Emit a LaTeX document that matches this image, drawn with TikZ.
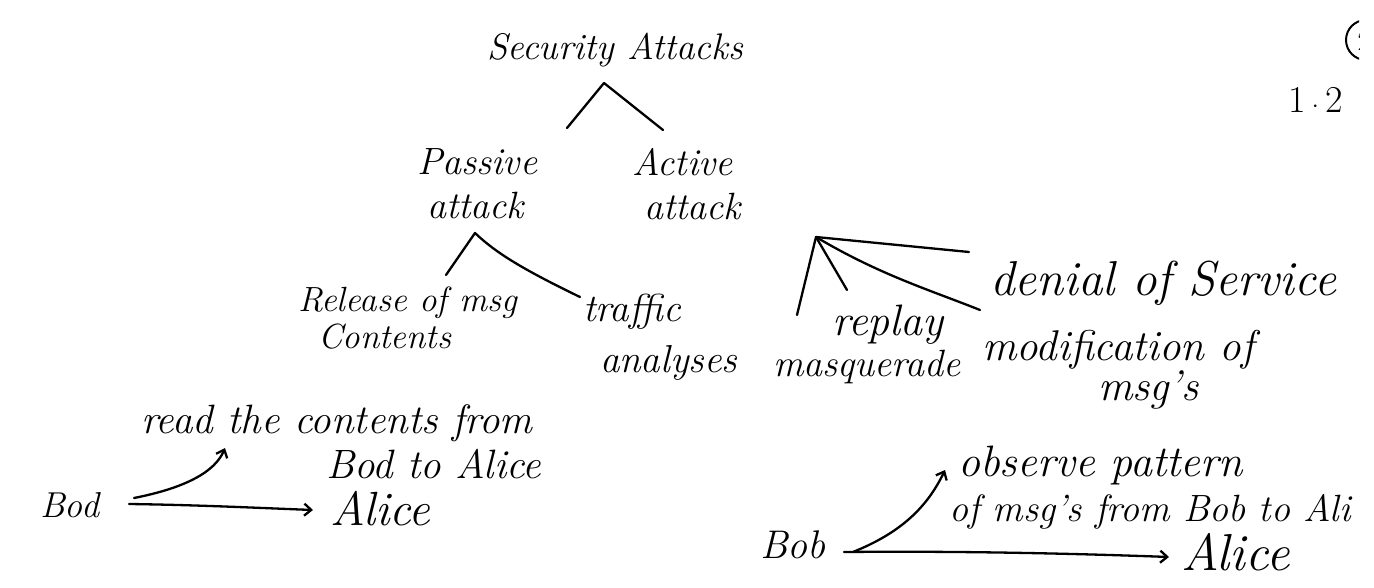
\documentclass[tikz,border=0pt]{standalone}
\usetikzlibrary{arrows.meta}
\tikzset{
  hw/.style={inner sep=0pt, outer sep=0pt, anchor=base west, font=\itshape\fontsize{#1}{#1}\selectfont, align=left},
  hw/.default=38,
  ink/.style={line width=2.3pt, line cap=round, line join=round, black},
  arr/.style={ink, -{Straight Barb[length=7pt, width=12pt, line width=2.3pt]}}
}
\begin{document}
\begin{tikzpicture}[x=1pt, y=-1pt]
\useasboundingbox (0,0) rectangle (1374,588);
\fill[white] (0,0) rectangle (1374,588);

% top (anchor = baseline of the last line)
\node[hw=37] (sec) at (487,60) {Security Attacks};
\node[hw=38] (pas) at (417,219) {Passive\\[6pt]\hspace*{10pt}attack};
\node[hw=38] (act) at (632,220) {Active\\[6pt]\hspace*{12pt}attack};

\coordinate (secA) at (604,83);
\coordinate (secL) at (567,128);
\coordinate (secR) at (663,130);
\draw[ink] (secL) -- (secA) -- (secR);

% passive children
\node[hw=35] (rel) at (298,348) {Release of msg\\[2pt]\hspace*{20pt}Contents};
\node[hw=39] (tra) at (583,372) {traffic\\[12pt]\hspace*{17pt}analyses};
\coordinate (pasA) at (475,233);
\coordinate (pasL) at (446,275);
\coordinate (pasR) at (580,297);
\draw[ink] (pasL) -- (pasA) .. controls (495,252) and (520,268) .. (pasR);

% active children
\node[hw=49] (dos) at (990,295) {denial of Service};
\node[hw=44] (rep) at (832,335) {replay};
\node[hw=38] (mas) at (773,376) {masquerade};
\node[hw=43] (mod) at (982,400) {modification of\\[-3pt]\hspace*{116pt}msg's};
\coordinate (actA) at (816,237);
\coordinate (e1) at (969,252);
\coordinate (e2) at (980,310);
\coordinate (e3) at (847,290);
\coordinate (e4) at (797,315);
\draw[ink] (actA) -- (e1);
\draw[ink] (actA) .. controls (880,275) and (930,290) .. (e2);
\draw[ink] (actA) -- (e3);
\draw[ink] (actA) -- (e4);

% bottom left
\node[hw=41] (readt) at (141,478) {read the contents from\\[4pt]\hspace*{185pt}Bod to Alice};
\node[hw=36] (bod) at (40,517) {Bod};
\node[hw=48] (ali1) at (330,525) {Alice};
\coordinate (bodS1) at (134,498);
\coordinate (bodS2) at (129,504);
\coordinate (bodU) at (225,448);
\coordinate (bodR) at (313,510);
\draw[arr] (bodS1) .. controls (185,488) and (215,472) .. (bodU);
\draw[arr] (bodS2) .. controls (200,505) and (260,508) .. (bodR);

% bottom right
\node[hw=44] (obs) at (958,476) {observe pattern};
\node[hw=38] (obs2) at (949,521) {of msg's from Bob to Ali};
\node[hw=40] (bob) at (760,558) {Bob};
\node[hw=52] (ali2) at (1181,570) {Alice};
\coordinate (bobS1) at (853,552);
\coordinate (bobS2) at (844,552);
\coordinate (bobU) at (945,470);
\coordinate (bobR) at (1169,557);
\draw[arr] (bobS1) .. controls (895,535) and (925,512) .. (bobU);
\draw[arr] (bobS2) .. controls (950,551) and (1060,553) .. (bobR);

% page number marks
\node[inner sep=0pt, anchor=base west, font=\fontsize{38}{38}\selectfont] (num) at (1288,113) {1\,$\cdot$\,2};
\begin{scope}
  \clip (1335,0) rectangle (1359,80);
  \draw[ink, line width=2pt] (1366,40) circle (20);
  \node[inner sep=0pt, font=\fontsize{28}{28}\selectfont] (two) at (1364,41) {2};
\end{scope}
\end{tikzpicture}
\end{document}
